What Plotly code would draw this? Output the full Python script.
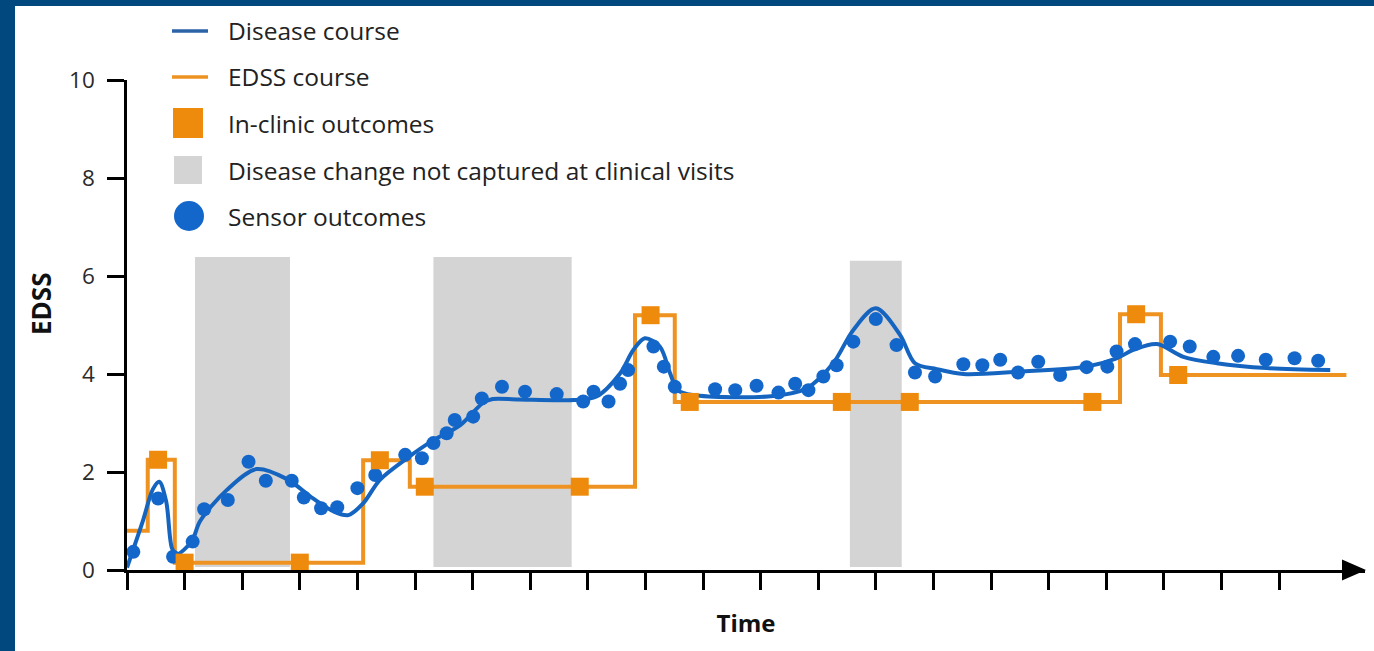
import plotly.graph_objects as go

# ---- data -------------------------------------------------------------
# Periods where the disease changed between clinic visits (time units)
gap_start = [1.18, 5.32, 12.55]
gap_end = [2.83, 7.72, 13.45]
gap_top = [6.39, 6.39, 6.31]
gap_bottom = 0.06

# Continuous disease course
disease_t = [0.0, 0.28, 0.45, 0.56, 0.68, 0.78, 0.86, 1.12, 1.27, 1.73, 2.25, 2.77,
             3.23, 3.58, 3.84, 4.1, 4.39, 4.86, 5.32, 5.78, 6.19, 6.35, 6.8, 7.75,
             8.15, 8.56, 8.79, 8.99, 9.25, 9.43, 9.56, 9.83, 11.22, 11.8, 12.26,
             12.61, 13.0, 13.42, 13.68, 14.06, 14.52, 15.5, 16.66, 17.18, 17.47,
             17.88, 18.34, 18.92, 19.79, 20.89]
disease_v = [0.05, 1.02, 1.65, 1.80, 1.40, 0.45, 0.32, 0.58, 1.0, 1.63, 2.06, 1.86,
             1.46, 1.20, 1.12, 1.36, 1.84, 2.28, 2.65, 2.95, 3.42, 3.49, 3.48, 3.47,
             3.54, 4.01, 4.49, 4.73, 4.56, 4.01, 3.67, 3.57, 3.55, 3.71, 4.22,
             4.90, 5.34, 4.80, 4.22, 4.10, 4.00, 4.05, 4.15, 4.32, 4.49,
             4.61, 4.35, 4.22, 4.12, 4.08]

# EDSS course: level held from each change point until the next one
edss_t = [0.0, 0.36, 0.83, 4.1, 4.91, 8.82, 9.51, 17.24, 17.95, 21.17]
edss_v = [0.8, 2.25, 0.15, 2.24, 1.7, 5.2, 3.43, 5.22, 3.98, 3.98]

# In-clinic outcomes
clinic_t = [0.54, 1.0, 3.0, 4.39, 5.17, 7.86, 9.09, 9.77, 12.41, 13.59, 16.76, 17.52, 18.25]
clinic_v = [2.25, 0.15, 0.15, 2.24, 1.7, 1.7, 5.2, 3.43, 3.43, 3.43, 3.43, 5.22, 3.98]

# Sensor outcomes
sensor_t = [0.11, 0.54, 0.80, 1.14, 1.34, 1.75, 2.11, 2.41, 2.86, 3.07, 3.37, 3.65,
            4.0, 4.31, 4.83, 5.12, 5.32, 5.55, 5.69, 6.01, 6.16, 6.51, 6.91, 7.46,
            7.92, 8.10, 8.36, 8.56, 8.70, 9.14, 9.32, 9.51, 10.21, 10.56, 10.93,
            11.31, 11.6, 11.83, 12.09, 12.32, 12.61, 13.0, 13.36, 13.68, 14.03,
            14.52, 14.85, 15.16, 15.47, 15.82, 16.20, 16.66, 17.02, 17.18, 17.50,
            18.11, 18.45, 18.86, 19.29, 19.77, 20.27, 20.68]
sensor_v = [0.37, 1.46, 0.27, 0.58, 1.24, 1.43, 2.21, 1.82, 1.82, 1.48, 1.26, 1.28,
            1.67, 1.94, 2.35, 2.28, 2.59, 2.79, 3.06, 3.13, 3.50, 3.74, 3.64, 3.59,
            3.44, 3.64, 3.44, 3.80, 4.08, 4.56, 4.15, 3.74, 3.69, 3.67, 3.76,
            3.62, 3.80, 3.67, 3.95, 4.18, 4.66, 5.12, 4.59, 4.03, 3.95,
            4.20, 4.18, 4.29, 4.03, 4.25, 3.98, 4.14, 4.15, 4.46, 4.61,
            4.66, 4.56, 4.35, 4.37, 4.29, 4.32, 4.27]

time_ticks = list(range(0, 21))
edss_ticks = [0, 2, 4, 6, 8, 10]

legend_labels = ["Disease course", "EDSS course", "In-clinic outcomes",
                 "Disease change not captured at clinical visits", "Sensor outcomes"]

# ---- styling ----------------------------------------------------------
BLUE_LINE = "#1565C0"
BLUE_DOT = "#1467CA"
ORANGE_LINE = "#EE9221"
ORANGE_SQ = "#EE8A0C"
GREY = "#D4D4D4"
FRAME = "#01487E"
FONT = "Open Sans, Liberation Sans, Arial, sans-serif"

W, H = 1374, 651
ML, MR, MT, MB = 127, 9, 80, 81
PW, PH = W - ML - MR, H - MT - MB


def px_x(p):
    return (p - ML) / PW


def px_y(p):
    return (H - MB - p) / PH


fig = go.Figure()

fig.add_trace(go.Scatter(x=edss_t, y=edss_v, mode="lines", line_shape="hv",
                         line=dict(color=ORANGE_LINE, width=4), cliponaxis=False,
                         name="EDSS course", showlegend=False))
fig.add_trace(go.Scatter(x=disease_t, y=disease_v, mode="lines", line_shape="spline",
                         line=dict(color=BLUE_LINE, width=4, smoothing=0.9),
                         cliponaxis=False, name="Disease course", showlegend=False))
fig.add_trace(go.Scatter(x=sensor_t, y=sensor_v, mode="markers",
                         marker=dict(color=BLUE_DOT, size=14, symbol="circle"),
                         cliponaxis=False, name="Sensor outcomes", showlegend=False))
fig.add_trace(go.Scatter(x=clinic_t, y=clinic_v, mode="markers",
                         marker=dict(color=ORANGE_SQ, size=18, symbol="square"),
                         cliponaxis=False, name="In-clinic outcomes", showlegend=False))

shapes = []
for x0, x1, top in zip(gap_start, gap_end, gap_top):
    shapes.append(dict(type="rect", xref="x", yref="y", x0=x0, x1=x1,
                       y0=gap_bottom, y1=top, fillcolor=GREY, line=dict(width=0),
                       layer="below"))

# arrow head at the end of the time axis
ax_y = H - MB
shapes.append(dict(type="path", xref="paper", yref="paper",
                   path=f"M {px_x(1342)} {px_y(ax_y - 10.5)} L {px_x(1366)} {px_y(ax_y)} "
                        f"L {px_x(1342)} {px_y(ax_y + 10.5)} Z",
                   fillcolor="black", line=dict(width=0)))

# frame strips along the left and top edges
shapes.append(dict(type="rect", xref="paper", yref="paper", x0=px_x(0), x1=px_x(15),
                   y0=px_y(H), y1=px_y(0), fillcolor=FRAME, line=dict(width=0)))
shapes.append(dict(type="rect", xref="paper", yref="paper", x0=px_x(0), x1=px_x(W),
                   y0=px_y(6), y1=px_y(0), fillcolor=FRAME, line=dict(width=0)))

# legend keys
rows = [31, 77, 123, 170, 216]
key_x0, key_x1 = 172, 208
shapes.append(dict(type="line", xref="paper", yref="paper", x0=px_x(key_x0), x1=px_x(key_x1),
                   y0=px_y(rows[0]), y1=px_y(rows[0]), line=dict(color="#2B62A8", width=3.5)))
shapes.append(dict(type="line", xref="paper", yref="paper", x0=px_x(key_x0), x1=px_x(key_x1),
                   y0=px_y(rows[1]), y1=px_y(rows[1]), line=dict(color=ORANGE_LINE, width=3.5)))
shapes.append(dict(type="rect", xref="paper", yref="paper", x0=px_x(173), x1=px_x(203),
                   y0=px_y(rows[2] + 15), y1=px_y(rows[2] - 15), fillcolor=ORANGE_SQ,
                   line=dict(width=0)))
shapes.append(dict(type="rect", xref="paper", yref="paper", x0=px_x(174), x1=px_x(202),
                   y0=px_y(rows[3] + 14), y1=px_y(rows[3] - 14), fillcolor=GREY,
                   line=dict(width=0)))
shapes.append(dict(type="circle", xref="paper", yref="paper", x0=px_x(174), x1=px_x(204),
                   y0=px_y(rows[4] + 15), y1=px_y(rows[4] - 15), fillcolor=BLUE_DOT,
                   line=dict(width=0)))

annotations = []
for label, ry in zip(legend_labels, rows):
    annotations.append(dict(text=label, xref="paper", yref="paper", x=px_x(226), y=px_y(ry),
                            xanchor="left", yanchor="middle", showarrow=False,
                            font=dict(family=FONT, size=24.5, color="#222222")))

# y-axis title, set a little above the middle of the axis
annotations.append(dict(text="<b>EDSS</b>", xref="paper", yref="paper",
                        x=px_x(41), y=px_y(304), xanchor="center", yanchor="middle",
                        textangle=-90, showarrow=False,
                        font=dict(family=FONT, size=26, color="#111111")))

fig.update_layout(
    width=W, height=H,
    margin=dict(l=ML, r=MR, t=MT, b=MB, pad=0),
    paper_bgcolor="white", plot_bgcolor="white",
    font=dict(family=FONT, color="#222222"),
    shapes=shapes, annotations=annotations,
    showlegend=False,
)
fig.update_xaxes(range=[0, PW / 57.6], tickvals=time_ticks, showticklabels=False,
                 ticks="outside", ticklen=17, tickwidth=2.5, tickcolor="black",
                 showline=True, linewidth=2.5, linecolor="black",
                 showgrid=False, zeroline=False,
                 title=dict(text="<b>Time</b>", font=dict(family=FONT, size=24, color="#111111"),
                            standoff=27))
fig.update_yaxes(range=[0, 10], tickvals=edss_ticks,
                 ticks="outside", ticklen=17, tickwidth=2.5, tickcolor="black",
                 tickfont=dict(family=FONT, size=22.5, color="#2A2A2A"),
                 ticklabelstandoff=8,
                 showline=True, linewidth=2.5, linecolor="black",
                 showgrid=False, zeroline=False)

fig.write_html("out.html")
